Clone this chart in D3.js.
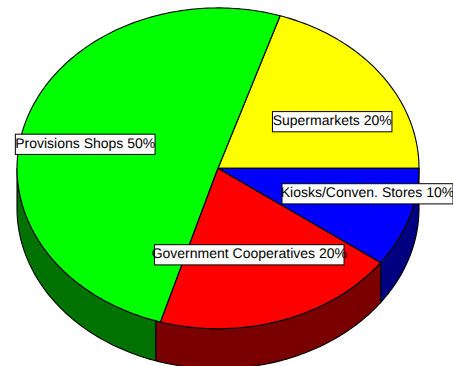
<!DOCTYPE html>
<html>
<head>
<meta charset="utf-8">
<script src="https://cdn.jsdelivr.net/npm/d3@7"></script>
<style>
  html, body { margin: 0; padding: 0; background: #fff; overflow: hidden; }
  svg { display: block; }
  text { font-family: "Liberation Sans", Arial, sans-serif; text-rendering: geometricPrecision; }
</style>
</head>
<body>
<svg id="chart" width="453" height="366"></svg>
<script>
// Market share by outlet type, listed counter-clockwise from the east.
const categories = ["Supermarkets", "Provisions Shops", "Government Cooperatives", "Kiosks/Conven. Stores"];
const shares = [20, 50, 20, 10];
const topColors = ["#ffff00", "#00ff00", "#ff0000", "#0000ff"];
const sideColors = ["#808000", "#007200", "#7a0000", "#000080"];

// Ellipse geometry of the tilted disc.
const cx = 218, cy = 168.3, rx = 201, ry = 160.4, depth = 40;
const fontSize = 14;

// The top face seam between the green and red slices sits a touch past the wall seam.
const topSeamShift = 1.4 * Math.PI / 180;
const shiftedSeamIndex = 2;

// Label boxes, centred on these points.
const labelCentres = [[332.2, 121.7], [85.2, 144.3], [249.3, 254.8], [367.5, 193.8]];
const labelBoxWidths = [119.5, 139.7, 189.5, 171];
const labelBoxHeight = 20.2;

const svg = d3.select("#chart");

// Angles run counter-clockwise from east, in radians.
const pie = d3.pie().sort(null).value(d => d).startAngle(0).endAngle(2 * Math.PI);
const slices = pie(shares);

const xScale = d3.scaleLinear().domain([-1, 1]).range([cx - rx, cx + rx]);
const yScale = d3.scaleLinear().domain([-1, 1]).range([cy + ry, cy - ry]);
const ptX = a => xScale(Math.cos(a));
const ptY = a => yScale(Math.sin(a));
const line = d3.line();

function rimPoints(a0, a1, dy) {
  const n = Math.max(2, Math.ceil((a1 - a0) * 60));
  return d3.range(n + 1).map(i => {
    const a = a0 + (a1 - a0) * i / n;
    return [ptX(a), ptY(a) + dy];
  });
}

// Side wall: only the part of each slice on the near half of the disc shows.
slices.forEach((s, i) => {
  const a0 = Math.max(s.startAngle, Math.PI);
  const a1 = Math.min(s.endAngle, 2 * Math.PI);
  if (a1 <= a0) return;
  const pts = rimPoints(a0, a1, 0).concat(rimPoints(a0, a1, depth).reverse());
  svg.append("path")
    .attr("d", line(pts) + "Z")
    .attr("fill", sideColors[i])
    .attr("stroke", "#000")
    .attr("stroke-width", 1.1);
});

// Top face of the disc.
slices.forEach((s, i) => {
  const a0 = s.startAngle + (i === shiftedSeamIndex ? topSeamShift : 0);
  const a1 = s.endAngle + (i + 1 === shiftedSeamIndex ? topSeamShift : 0);
  const pts = [[cx, cy]].concat(rimPoints(a0, a1, 0));
  svg.append("path")
    .attr("d", line(pts) + "Z")
    .attr("fill", topColors[i])
    .attr("stroke", "#000")
    .attr("stroke-width", 1.1)
    .attr("stroke-linejoin", "round");
});

// Value labels in boxed captions.
categories.forEach((c, i) => {
  const [lx, ly] = labelCentres[i];
  const w = labelBoxWidths[i];
  svg.append("rect")
    .attr("x", lx - w / 2).attr("y", ly - labelBoxHeight / 2)
    .attr("width", w).attr("height", labelBoxHeight)
    .attr("fill", "#fff").attr("stroke", "#000").attr("stroke-width", 1);
  svg.append("text")
    .attr("x", lx).attr("y", ly + 3.3)
    .attr("text-anchor", "middle")
    .attr("font-size", fontSize)
    .attr("fill", "#000")
    .text(`${c} ${shares[i]}%`);
});
</script>
</body>
</html>
